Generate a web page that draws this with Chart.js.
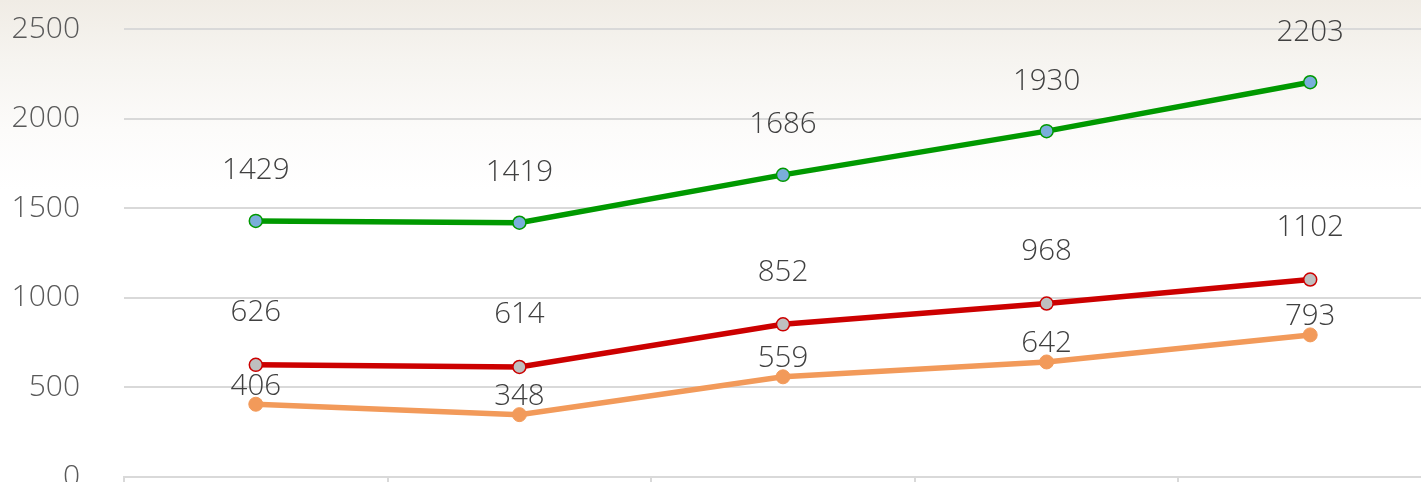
<!DOCTYPE html>
<html>
<head>
<meta charset="utf-8">
<script src="https://cdn.jsdelivr.net/npm/chart.js@4"></script>
<style>
  html, body { margin: 0; padding: 0; overflow: hidden; }
  body {
    width: 1421px; height: 482px;
    background: linear-gradient(to bottom, #f0ece5 0px, #f6f4f0 60px, #fcfbfa 130px, #ffffff 190px);
  }
  canvas { display: block; }
</style>
</head>
<body>
<canvas id="lines" width="1450" height="500"></canvas>
<script>
const categories = ["1", "2", "3", "4", "5"]
const greenSeries = [1429, 1419, 1686, 1930, 2203]
const redSeries = [626, 614, 852, 968, 1102]
const orangeSeries = [406, 348, 559, 642, 793]
const yTicks = [0, 500, 1000, 1500, 2000, 2500]

const labelOffsets = [50, 52, 18]
const fontFamily = "'Open Sans', 'Noto Sans', sans-serif"

// value labels above the points
const valueLabels = {
  id: "valueLabels",
  afterDatasetsDraw(chart) {
    const ctx = chart.ctx
    ctx.save()
    ctx.font = "300 29.5px " + fontFamily
    ctx.fillStyle = "#404040"
    ctx.textAlign = "center"
    ctx.textBaseline = "middle"
    chart.data.datasets.forEach((ds, i) => {
      chart.getDatasetMeta(i).data.forEach((pt, j) => {
        ctx.fillText(ds.data[j], pt.x, pt.y - labelOffsets[i])
      })
    })
    ctx.restore()
  }
}

new Chart(document.getElementById("lines"), {
  type: "line",
  data: {
    labels: categories,
    datasets: [
      {
        data: greenSeries,
        borderColor: "#009900",
        borderWidth: 5.5,
        pointBackgroundColor: "#7aaedb",
        pointBorderColor: "#009900",
        pointBorderWidth: 1.5,
        pointRadius: 6.5,
        tension: 0
      },
      {
        data: redSeries,
        borderColor: "#cc0000",
        borderWidth: 5.5,
        pointBackgroundColor: "#bfbfbf",
        pointBorderColor: "#cc0000",
        pointBorderWidth: 1.5,
        pointRadius: 6.5,
        tension: 0
      },
      {
        data: orangeSeries,
        borderColor: "#f29a5a",
        borderWidth: 5.5,
        pointBackgroundColor: "#f29a5a",
        pointBorderColor: "#f29a5a",
        pointBorderWidth: 1,
        pointRadius: 7,
        tension: 0
      }
    ]
  },
  options: {
    responsive: false,
    animation: false,
    layout: { padding: { top: 29, right: 6, left: 0, bottom: 0 } },
    plugins: {
      legend: { display: false },
      tooltip: { enabled: false }
    },
    scales: {
      x: {
        offset: true,
        afterFit: (scale) => { scale.height = 23 },
        grid: {
          display: true,
          drawOnChartArea: false,
          drawTicks: true,
          tickLength: 12,
          color: "#d9d9d9",
          lineWidth: 2,
          offset: true
        },
        border: { display: true, color: "#d9d9d9", width: 2 },
        ticks: { display: false }
      },
      y: {
        min: 0,
        max: 2500,
        afterFit: (scale) => { scale.width = 124 },
        afterBuildTicks: (scale) => { scale.ticks = yTicks.map(v => ({ value: v })) },
        grid: { color: "#d9d9d9", lineWidth: 2, drawTicks: true, tickLength: 44, tickColor: "rgba(0,0,0,0)" },
        border: { display: false },
        ticks: {
          padding: 0,
          color: "#595959",
          callback: (v) => String(v),
          font: { size: 30, weight: 300, family: fontFamily }
        }
      }
    }
  },
  plugins: [valueLabels]
})
</script>
</body>
</html>
